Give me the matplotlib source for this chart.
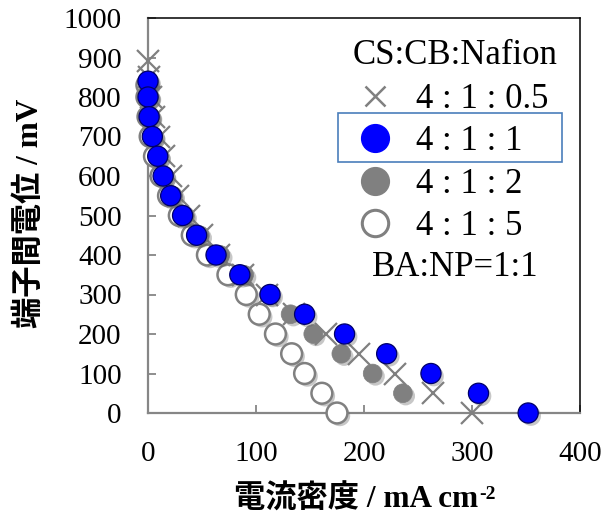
import matplotlib
matplotlib.use("Agg")
import matplotlib.pyplot as plt
import matplotlib.patheffects as pe
from matplotlib.lines import Line2D
from matplotlib.patches import Rectangle

# Current density (mA cm^-2) and terminal voltage (mV) for each CS:CB:Nafion ratio
v_05 = [890, 850, 800, 750, 700, 650, 600, 550, 500, 450, 400, 350, 300, 250, 200, 150, 100, 50, 0]
i_05 = [0, 1, 3, 6, 10, 15, 21, 28, 38, 50, 66, 88, 110, 135, 165, 195, 229, 264, 300]

v_1 = [840, 800, 750, 700, 650, 600, 550, 500, 450, 400, 350, 300, 250, 200, 150, 100, 50, 0]
i_1 = [0, 0, 1, 4, 9, 14, 21, 32, 45, 63, 85, 113, 145, 182, 221, 262, 306, 352]

v_2 = [840, 800, 750, 700, 650, 600, 550, 500, 450, 400, 350, 300, 250, 200, 150, 100, 50]
i_2 = [0, 1, 2, 5, 10, 15, 23, 34, 48, 67, 89, 112, 132, 153, 179, 208, 236]

v_5 = [830, 800, 750, 700, 650, 600, 550, 500, 450, 400, 350, 300, 250, 200, 150, 100, 50, 0]
i_5 = [-1, -1, 0, 2, 6, 12, 19, 29, 41, 55, 74, 91, 103, 118, 133, 145, 161, 175]

labels = ["4 : 1 : 0.5", "4 : 1 : 1", "4 : 1 : 2", "4 : 1 : 5"]
x_ticks = [0, 100, 200, 300, 400]
y_ticks = [0, 100, 200, 300, 400, 500, 600, 700, 800, 900, 1000]

SERIF = "Liberation Serif"
MIXED = ["Liberation Serif", "Noto Sans CJK JP"]
GRAY = "#808080"
AXIS_GRAY = "#868686"
BLUE = "#0000FF"

fig = plt.figure(figsize=(6.05, 5.17), dpi=100)
W, H = 605, 517
ax = fig.add_axes([148 / W, 1 - 413 / H, (580 - 148) / W, (413 - 18) / H])

shadow = [pe.SimplePatchShadow(offset=(2, -2), shadow_rgbFace="#606060", alpha=0.35), pe.Normal()]

ax.plot(i_5, v_5, ls="none", marker="o", ms=15, mfc="white", mec=GRAY, mew=1.8,
        zorder=3, clip_on=False, path_effects=shadow)
ax.plot(i_2, v_2, ls="none", marker="o", ms=13.5, mfc=GRAY, mec=GRAY, mew=0.5,
        zorder=4, clip_on=False, path_effects=shadow)
ax.plot(i_05, v_05, ls="none", marker="x", ms=16, mec=GRAY, mew=1.6,
        zorder=5, clip_on=False)
ax.plot(i_1, v_1, ls="none", marker="o", ms=14.5, mfc=BLUE, mec="#00006A", mew=0.9,
        zorder=6, clip_on=False, path_effects=shadow)

ax.set_xlim(0, 400)
ax.set_ylim(0, 1000)
ax.set_xticks(x_ticks)
ax.set_yticks(y_ticks)
ax.set_xticklabels([str(t) for t in x_ticks], fontfamily=SERIF, fontsize=21)
ax.set_yticklabels([str(t) for t in y_ticks], fontfamily=SERIF, fontsize=21)
ax.tick_params(axis="both", direction="in", length=6, width=1.3, color=AXIS_GRAY)
ax.tick_params(axis="y", pad=19)
ax.tick_params(axis="x", pad=20)

for side in ("left", "bottom"):
    ax.spines[side].set_color(AXIS_GRAY)
    ax.spines[side].set_linewidth(1.6)
for side in ("top", "right"):
    ax.spines[side].set_color("black")
    ax.spines[side].set_linewidth(1.1)

# Axis titles (Japanese in gothic, Latin in serif, bold)
fig.text(30 / W, 1 - 213 / H, "端子間電位 / mV", rotation=90, ha="center", va="center",
         family=MIXED, fontweight="bold", fontsize=22.5)
xl = fig.text(356 / W, 1 - 500 / H, "電流密度 / mA cm", ha="center", va="center",
              family=MIXED, fontweight="bold", fontsize=22.5)
ax.annotate("-2", xy=(1, 1), xycoords=xl, xytext=(1, -1), textcoords="offset points",
            ha="left", va="top", family=SERIF, fontweight="bold", fontsize=14)

# Legend
fig.text(455 / W, 1 - 55 / H, "CS:CB:Nafion", ha="center", va="center",
         family=SERIF, fontsize=25)
handles = [
    Line2D([], [], ls="none", marker="x", ms=14, mec=GRAY, mew=1.8),
    Line2D([], [], ls="none", marker="o", ms=20, mfc=BLUE, mec=BLUE),
    Line2D([], [], ls="none", marker="o", ms=20, mfc=GRAY, mec=GRAY),
    Line2D([], [], ls="none", marker="o", ms=19, mfc="white", mec=GRAY, mew=2.2),
]
leg = ax.legend(handles, labels, loc="upper left",
                bbox_to_anchor=(350 / W, 1 - 83 / H), bbox_transform=fig.transFigure,
                frameon=False, prop={"family": SERIF, "size": 25},
                labelspacing=0.27, handletextpad=0.46, handlelength=1.44,
                borderpad=0.0, borderaxespad=0.0)
leg.set_zorder(10)

fig.patches.append(Rectangle((338 / W, 1 - 162 / H), (562 - 338) / W, (162 - 113) / H,
                             transform=fig.transFigure, fill=False,
                             edgecolor="#4A7EBB", linewidth=1.2, zorder=11))
fig.text(455 / W, 1 - 267 / H, "BA:NP=1:1", ha="center", va="center",
         family=SERIF, fontsize=25)

fig.savefig("out.png", dpi=100)
